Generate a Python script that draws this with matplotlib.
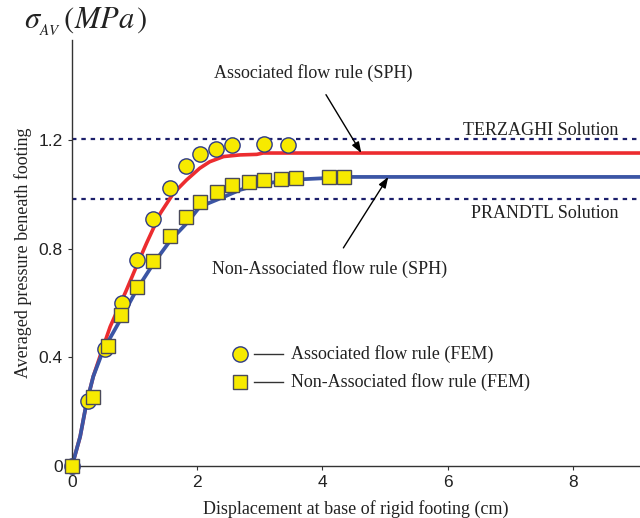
import matplotlib
matplotlib.use("Agg")
import matplotlib.pyplot as plt

plt.rcParams['mathtext.fontset'] = 'stix'

# SPH curves
sph_assoc_x = [0, 0.13, 0.23, 0.34, 0.50, 0.61, 0.87, 1.02, 1.19, 1.41, 1.62, 1.83, 2.04, 2.20, 2.42, 2.68, 2.95, 3.05, 9.1]
sph_assoc_y = [0, 0.108, 0.23, 0.33, 0.44, 0.513, 0.648, 0.73, 0.82, 0.93, 1.004, 1.053, 1.096, 1.12, 1.139, 1.145, 1.147, 1.152, 1.152]
sph_non_x = [0, 0.13, 0.23, 0.34, 0.50, 0.77, 1.03, 1.30, 1.57, 1.83, 2.04, 2.42, 2.68, 2.95, 3.27, 3.64, 4.44, 9.1]
sph_non_y = [0, 0.108, 0.23, 0.33, 0.427, 0.537, 0.648, 0.745, 0.83, 0.893, 0.954, 0.99, 1.016, 1.034, 1.046, 1.055, 1.064, 1.064]

# FEM points
fem_assoc_x = [0, 0.26, 0.53, 0.80, 1.04, 1.29, 1.56, 1.82, 2.04, 2.30, 2.56, 3.07, 3.45]
fem_assoc_y = [0, 0.24, 0.43, 0.60, 0.76, 0.91, 1.025, 1.104, 1.148, 1.167, 1.18, 1.185, 1.18]
fem_non_x = [0, 0.34, 0.57, 0.79, 1.04, 1.29, 1.56, 1.82, 2.04, 2.31, 2.56, 2.82, 3.07, 3.33, 3.58, 4.10, 4.35]
fem_non_y = [0, 0.254, 0.44, 0.555, 0.66, 0.755, 0.845, 0.916, 0.970, 1.008, 1.033, 1.045, 1.053, 1.056, 1.061, 1.064, 1.064]

terzaghi = 1.203
prandtl = 0.983

x_ticks = [0, 2, 4, 6, 8]
y_ticks = [0, 0.4, 0.8, 1.2]
y_ticklabels = ['0', '0.4', '0.8', '1.2']

serif = 'Liberation Serif'
sans = 'Liberation Sans'
FS = 13

fig = plt.figure(figsize=(6.4, 5.18), dpi=100)
ax = fig.add_axes([72/640, 52/518, 1 - 72/640, (466-40)/518])

ax.axhline(terzaghi, color='#1c1f6b', lw=1.6, ls=(0, (2, 2.2)), zorder=1)
ax.axhline(prandtl, color='#1c1f6b', lw=1.6, ls=(0, (2, 2.2)), zorder=1)

ax.plot(sph_assoc_x, sph_assoc_y, color='#ec2c2f', lw=2.6, zorder=2)
ax.plot(sph_non_x, sph_non_y, color='#3b55a5', lw=2.7, zorder=2)

ax.plot(fem_assoc_x, fem_assoc_y, ls='none', marker='o', ms=11, mfc='#f7ea00',
        mec='#2e3a86', mew=1.0, zorder=3, clip_on=False)
ax.plot(fem_non_x, fem_non_y, ls='none', marker='s', ms=10.5, mfc='#f7ea00',
        mec='#4a4a5a', mew=1.0, zorder=4, clip_on=False)

ax.set_xlim(0, 9.07)
ax.set_ylim(0, 1.568)
ax.set_xticks(x_ticks)
ax.set_xticklabels([str(t) for t in x_ticks])
ax.set_yticks(y_ticks)
ax.set_yticklabels(y_ticklabels)
for lab in ax.get_xticklabels() + ax.get_yticklabels():
    lab.set_fontfamily(sans)
    lab.set_fontsize(12.5)
    lab.set_color('#222222')
ax.tick_params(direction='out', length=3, width=0.8, colors='#333333', labelcolor='#222222')
for s in ['top', 'right']:
    ax.spines[s].set_visible(False)
for s in ['left', 'bottom']:
    ax.spines[s].set_linewidth(1.0)
    ax.spines[s].set_color('#333333')

ax.set_xlabel('Displacement at base of rigid footing (cm)', fontfamily=serif, fontsize=FS, color='#222222', labelpad=7)
ax.set_ylabel('Averaged pressure beneath footing', fontfamily=serif, fontsize=FS, color='#222222', labelpad=5)

fig.text(24/640, 1 - 21/518, r'$\sigma_{{}_{AV}}\,(MPa\,)$', fontsize=22, va='center', ha='left', color='#222222')

tkw = dict(fontfamily=serif, fontsize=FS, color='#222222', ha='center', va='center')
ax.annotate('Associated flow rule (SPH)', xy=(4.62, 1.152), xytext=(3.85, 1.445),
            arrowprops=dict(arrowstyle='-|>,head_length=0.5,head_width=0.18', color='black', lw=1.0,
                            shrinkA=8, shrinkB=0), **tkw)
ax.annotate('Non-Associated flow rule (SPH)', xy=(5.05, 1.064), xytext=(4.12, 0.725),
            arrowprops=dict(arrowstyle='-|>,head_length=0.5,head_width=0.18', color='black', lw=1.0,
                            shrinkA=8, shrinkB=0), **tkw)
ax.text(7.49, 1.236, 'TERZAGHI Solution', **tkw)
ax.text(7.55, 0.928, 'PRANDTL Solution', **tkw)

# legend
lx = 2.68
ax.plot([lx], [0.413], ls='none', marker='o', ms=11, mfc='#f7ea00', mec='#2e3a86', mew=1.0)
ax.plot([2.9, 3.37], [0.413, 0.413], color='#333333', lw=1.0)
ax.text(3.5, 0.413, 'Associated flow rule (FEM)', fontfamily=serif, fontsize=FS, color='#222222', va='center', ha='left')
ax.plot([lx], [0.308], ls='none', marker='s', ms=10.5, mfc='#f7ea00', mec='#4a4a5a', mew=1.0)
ax.plot([2.9, 3.37], [0.308, 0.308], color='#333333', lw=1.0)
ax.text(3.5, 0.308, 'Non-Associated flow rule (FEM)', fontfamily=serif, fontsize=FS, color='#222222', va='center', ha='left')

fig.savefig('out.png', dpi=100)
